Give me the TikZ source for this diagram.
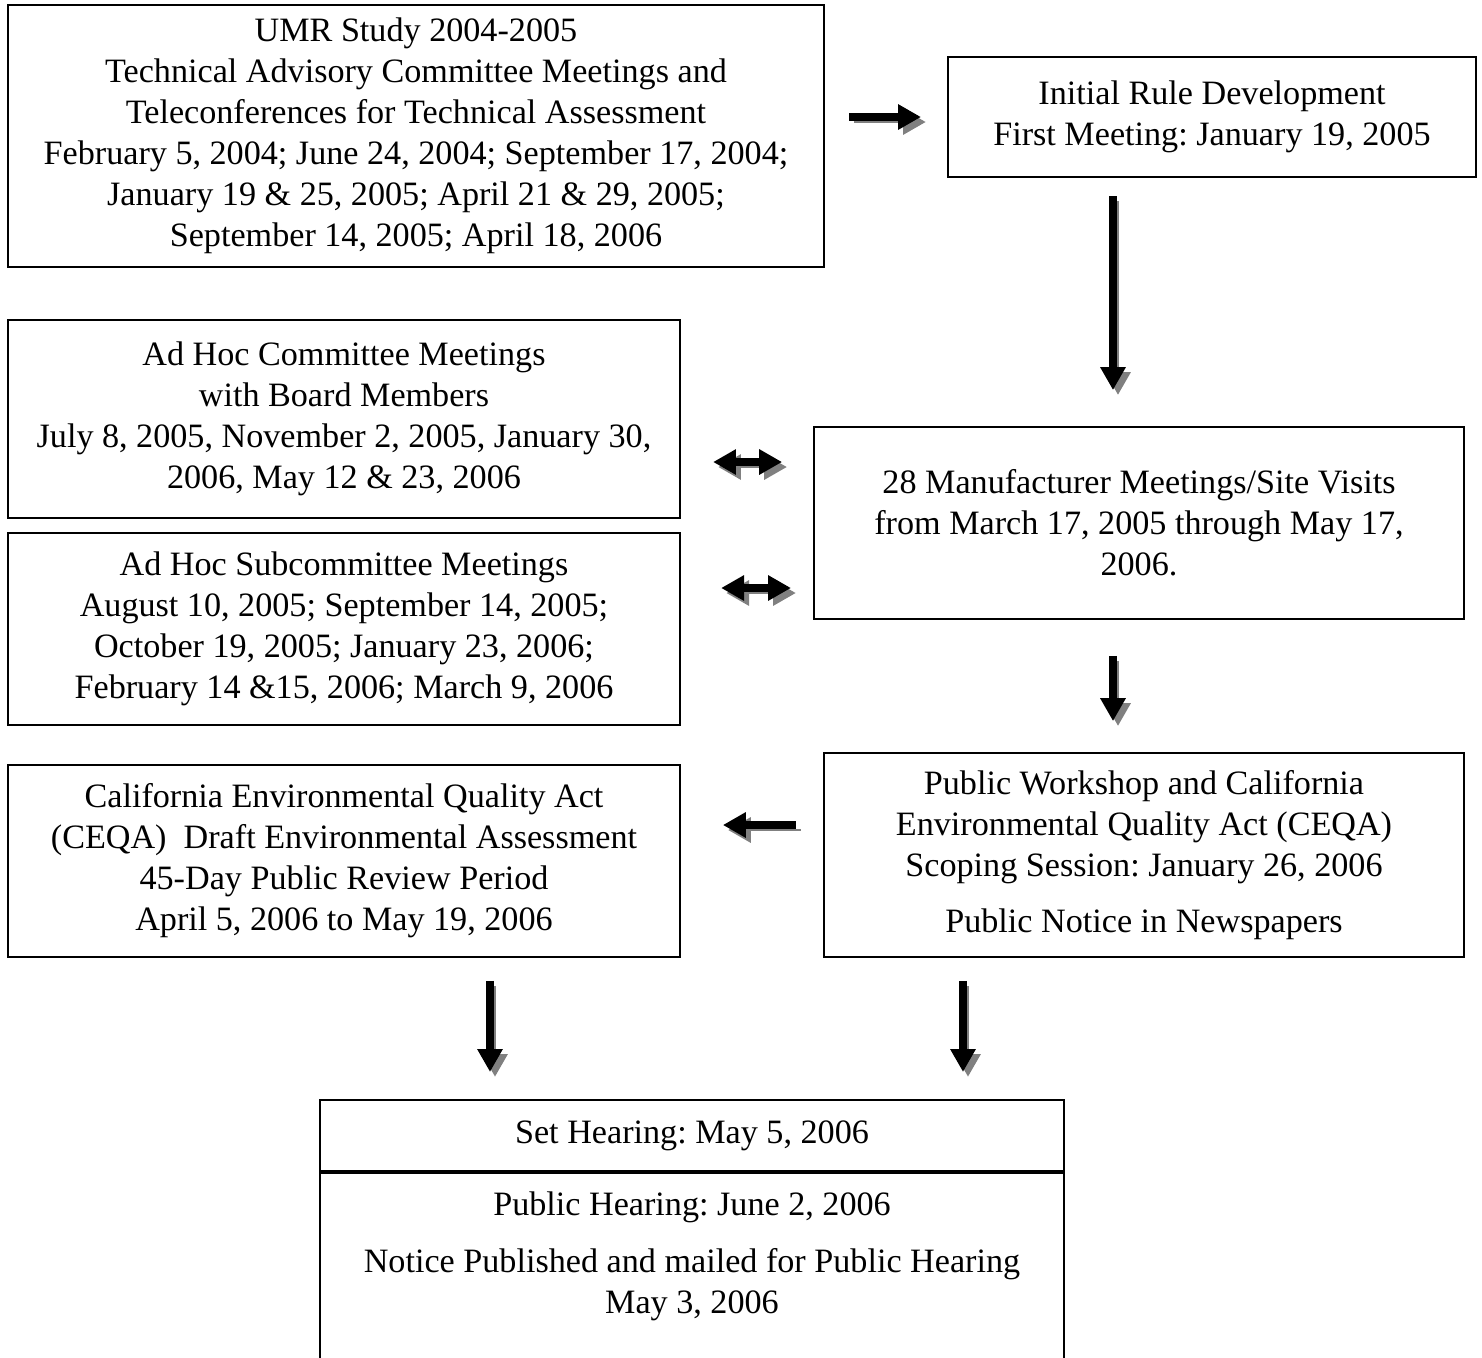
\documentclass[tikz,border=0pt]{standalone}
\usepackage{fontspec}
\setmainfont{Liberation Serif}
\usepackage{tikz}
\usetikzlibrary{arrows.meta,calc}
\newdimen\px \px=0.3367pt
\frenchspacing

\begin{document}
\begin{tikzpicture}[x=0.3367pt,y={(0pt,-0.3367pt)},
  every text node part/.style={align=center},
  box/.style={draw,line width=0.7pt,inner sep=0pt,font=\fontsize{11.5pt}{13.8pt}\selectfont},
  blockarrow/.style={line width=2.7pt,
    -{Triangle[width=8.1pt,length=7.7pt]},
    preaction={draw=black!50,transform canvas={shift={(5,5)}}}},
  dblarrow/.style={blockarrow,
    {Triangle[width=8.1pt,length=7.7pt]}-{Triangle[width=8.1pt,length=7.7pt]}}]
  \useasboundingbox (0,0) rectangle (1482,1357);
  \clip (0,0) rectangle (1482,1357);

  \node[box,minimum width=816\px,minimum height=262\px] (umr) at (416,136)
    {UMR Study 2004-2005\\ Technical Advisory Committee Meetings and\\
     Teleconferences for Technical Assessment\\
     February 5, 2004; June 24, 2004; September 17, 2004;\\
     January 19 \& 25, 2005; April 21 \& 29, 2005;\\
     September 14, 2005; April 18, 2006};
  \node[box,minimum width=528\px,minimum height=120\px] (rule) at (1212,117)
    {Initial Rule Development\\ First Meeting: January 19, 2005};
  \node[box,minimum width=672\px,minimum height=198\px] (adhoc) at (344,419)
    {Ad Hoc Committee Meetings\\ with Board Members\\
     July 8, 2005, November 2, 2005, January 30,\\ 2006, May 12 \& 23, 2006};
  \node[box,minimum width=650\px,minimum height=192\px] (manuf) at (1139,523)
    {28 Manufacturer Meetings/Site Visits\\
     from March 17, 2005 through May 17,\\ 2006.};
  \node[box,minimum width=672\px,minimum height=192\px] (subcom) at (344,629)
    {Ad Hoc Subcommittee Meetings\\ August 10, 2005; September 14, 2005;\\
     October 19, 2005; January 23, 2006;\\ February 14 \&15, 2006; March 9, 2006};
  \node[box,minimum width=672\px,minimum height=192\px] (ceqa) at (344,861)
    {California Environmental Quality Act\\
     (CEQA)~ Draft Environmental Assessment\\ 45-Day Public Review Period\\
     April 5, 2006 to May 19, 2006};
  \node[box,minimum width=640\px,minimum height=204\px] (pubwork) at (1144,855)
    {Public Workshop and California\\ Environmental Quality Act (CEQA)\\
     Scoping Session: January 26, 2006\\[5pt] Public Notice in Newspapers};
  \node[box,minimum width=744\px,minimum height=71\px] (sethear) at (692,1135.5)
    {Set Hearing: May 5, 2006};
  \node[box,minimum width=744\px,minimum height=240\px,anchor=north] (pubhear)
    at (sethear.south) {};
  \node[box,draw=none,anchor=north] (pubheartext) at ($(sethear.south)+(0,19)$)
    {Public Hearing: June 2, 2006\\[5.4pt]
     Notice Published and mailed for Public Hearing\\ May 3, 2006};

  % block arrows
  \draw[blockarrow,shorten <=8.1pt,shorten >=8.75pt] (umr.east |- rule.west) -- (rule.west);
  \coordinate (a5) at ($(rule.south)+(-99,0)$);
  \draw[blockarrow,shorten <=6.1pt,shorten >=12.1pt] (a5) -- (a5 |- manuf.north);
  \coordinate (a1) at ($(adhoc.east)+(0,43)$);
  \draw[dblarrow,shorten <=10.8pt,shorten >=10.4pt] (a1) -- (a1 -| manuf.west);
  \coordinate (a2) at ($(subcom.east)+(0,-41)$);
  \draw[dblarrow,shorten <=13.5pt,shorten >=7.4pt] (a2) -- (a2 -| manuf.west);
  \coordinate (a4) at ($(manuf.south)+(-26,0)$);
  \draw[blockarrow,shorten <=12.1pt,shorten >=10.4pt] (a4) -- (a4 |- pubwork.north);
  \coordinate (a3) at ($(pubwork.west)+(0,-30)$);
  \draw[blockarrow,shorten <=9.1pt,shorten >=14.1pt] (a3) -- (a3 -| ceqa.east);
  \coordinate (a6) at ($(ceqa.south)+(146,0)$);
  \draw[blockarrow,shorten <=7.7pt,shorten >=9.1pt] (a6) -- (a6 |- sethear.north);
  \coordinate (a7) at ($(pubwork.south)+(-181,0)$);
  \draw[blockarrow,shorten <=7.7pt,shorten >=9.1pt] (a7) -- (a7 |- sethear.north);
\end{tikzpicture}
\end{document}
